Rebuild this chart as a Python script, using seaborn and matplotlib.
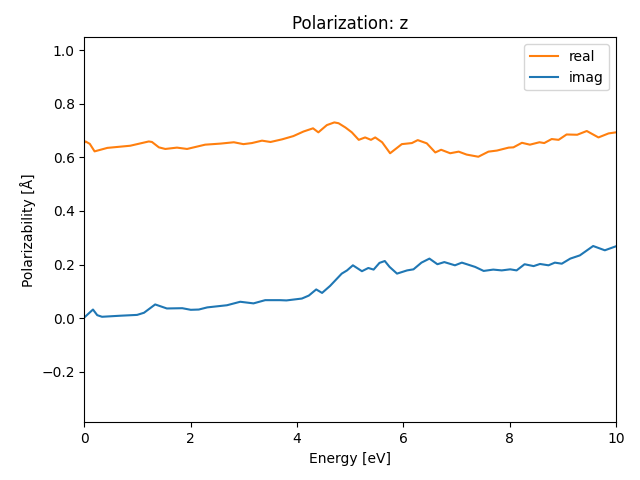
import numpy as np
import pandas as pd
import matplotlib
matplotlib.use('Agg')
import matplotlib.pyplot as plt
import seaborn as sns

# real part (orange)
energy_real = [0.0, 0.02, 0.1, 0.19, 0.43, 0.86, 1.21, 1.27, 1.40, 1.52, 1.74, 1.93, 2.27, 2.56,
               2.81, 2.99, 3.15, 3.34, 3.50, 3.72, 3.93, 4.12, 4.30, 4.40, 4.56, 4.70, 4.78,
               4.91, 5.03, 5.16, 5.28, 5.39, 5.47, 5.60, 5.75, 5.97, 6.16, 6.27, 6.44, 6.60,
               6.71, 6.88, 7.04, 7.19, 7.41, 7.60, 7.76, 7.98, 8.07, 8.23, 8.38, 8.56, 8.65,
               8.79, 8.92, 9.07, 9.27, 9.45, 9.67, 9.86, 10.0]
real = [0.655, 0.659, 0.650, 0.622, 0.635, 0.643, 0.659, 0.657, 0.637, 0.631, 0.636, 0.631, 0.647, 0.651,
        0.656, 0.649, 0.653, 0.662, 0.657, 0.667, 0.679, 0.696, 0.708, 0.693, 0.720, 0.730, 0.727,
        0.711, 0.693, 0.665, 0.674, 0.665, 0.674, 0.656, 0.615, 0.649, 0.653, 0.664, 0.652, 0.618,
        0.628, 0.615, 0.621, 0.610, 0.602, 0.621, 0.625, 0.636, 0.637, 0.654, 0.647, 0.656, 0.653,
        0.668, 0.665, 0.685, 0.684, 0.698, 0.674, 0.689, 0.693]

# imaginary part (blue)
energy_imag = [0.0, 0.16, 0.24, 0.33, 0.68, 0.99, 1.12, 1.33, 1.55, 1.84, 2.0, 2.15, 2.31, 2.68,
               2.93, 3.18, 3.40, 3.68, 3.80, 4.09, 4.22, 4.36, 4.47, 4.62, 4.84, 4.94, 5.05,
               5.22, 5.34, 5.44, 5.55, 5.65, 5.74, 5.88, 6.07, 6.19, 6.34, 6.49, 6.64, 6.77,
               6.97, 7.10, 7.35, 7.51, 7.69, 7.85, 8.01, 8.13, 8.28, 8.45, 8.57, 8.73, 8.85,
               8.98, 9.14, 9.32, 9.57, 9.79, 10.0]
imag = [0.003, 0.032, 0.011, 0.005, 0.009, 0.012, 0.020, 0.051, 0.036, 0.037, 0.031, 0.032, 0.040, 0.048,
        0.061, 0.055, 0.067, 0.067, 0.066, 0.073, 0.084, 0.107, 0.094, 0.120, 0.166, 0.178, 0.197,
        0.175, 0.187, 0.181, 0.206, 0.213, 0.191, 0.166, 0.178, 0.182, 0.207, 0.222, 0.201, 0.209,
        0.197, 0.207, 0.191, 0.176, 0.181, 0.178, 0.182, 0.178, 0.201, 0.194, 0.202, 0.197, 0.207,
        0.203, 0.222, 0.234, 0.269, 0.253, 0.268]

df_real = pd.DataFrame({'Energy': energy_real, 'value': real})
df_imag = pd.DataFrame({'Energy': energy_imag, 'value': imag})

fig, ax = plt.subplots(figsize=(6.4, 4.8), dpi=100)
fig.subplots_adjust(left=0.132, right=0.9625, top=0.922, bottom=0.120)
sns.lineplot(data=df_real, x='Energy', y='value', color='C1', label='real', ax=ax)
sns.lineplot(data=df_imag, x='Energy', y='value', color='C0', label='imag', ax=ax)

ax.set_xlim(0, 10)
ax.set_ylim(-0.389, 1.047)
ax.set_title('Polarization: z')
ax.set_xlabel('Energy [eV]')
ax.set_ylabel('Polarizability [Å]')
ax.legend(loc='upper right')
plt.savefig('out.png')
